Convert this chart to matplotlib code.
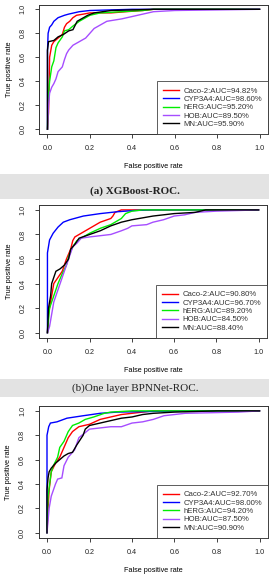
import matplotlib
matplotlib.use("Agg")
import matplotlib.pyplot as plt
from matplotlib.patches import Rectangle

plt.rcParams['font.family'] = ['Liberation Sans', 'DejaVu Sans']

# ---------------- data ----------------
series_names = ["Caco-2", "CYP3A4", "hERG", "HOB", "MN"]
colors = ["#ff0000", "#0000ff", "#00ee00", "#a64dff", "#000000"]

# Panel (a) XGBoost
a_auc = ["94.82%", "98.60%", "95.20%", "89.50%", "95.90%"]
a_caco_fpr = [0, 0.005, 0.008, 0.01, 0.02, 0.03, 0.05, 0.07, 0.08, 0.09, 0.105, 0.12, 0.137, 0.17, 0.2, 0.3, 0.37, 0.45, 0.5, 1.0]
a_caco_tpr = [0, 0.14, 0.4, 0.6, 0.7, 0.73, 0.76, 0.79, 0.85, 0.88, 0.9, 0.93, 0.95, 0.96, 0.97, 0.97, 0.98, 0.99, 1.0, 1.0]
a_cyp_fpr = [0, 0, 0.003, 0.01, 0.02, 0.03, 0.05, 0.08, 0.1, 0.15, 0.2, 0.3, 0.4, 1.0]
a_cyp_tpr = [0, 0.65, 0.8, 0.85, 0.87, 0.9, 0.93, 0.95, 0.96, 0.98, 0.99, 0.995, 1.0, 1.0]
a_herg_fpr = [0, 0.003, 0.01, 0.02, 0.03, 0.04, 0.05, 0.07, 0.08, 0.1, 0.12, 0.15, 0.2, 0.25, 0.35, 0.45, 0.5, 1.0]
a_herg_tpr = [0, 0.25, 0.4, 0.52, 0.57, 0.68, 0.72, 0.77, 0.82, 0.83, 0.86, 0.9, 0.95, 0.97, 0.98, 0.99, 1.0, 1.0]
a_hob_fpr = [0, 0.005, 0.01, 0.02, 0.03, 0.04, 0.05, 0.07, 0.08, 0.09, 0.1, 0.12, 0.15, 0.18, 0.2, 0.22, 0.25, 0.28, 0.35, 0.4, 0.45, 0.5, 0.6, 0.8, 1.0]
a_hob_tpr = [0, 0.2, 0.3, 0.35, 0.38, 0.42, 0.48, 0.52, 0.58, 0.63, 0.66, 0.7, 0.73, 0.76, 0.8, 0.84, 0.87, 0.9, 0.92, 0.94, 0.96, 0.98, 0.99, 0.995, 1.0]
a_mn_fpr = [0, 0, 0.005, 0.03, 0.05, 0.075, 0.1, 0.12, 0.14, 0.16, 0.19, 0.22, 0.3, 0.5, 1.0]
a_mn_tpr = [0, 0.66, 0.73, 0.74, 0.77, 0.79, 0.82, 0.83, 0.9, 0.92, 0.95, 0.97, 0.99, 1.0, 1.0]

# Panel (b) One layer BPNNet
b_auc = ["90.80%", "96.70%", "89.20%", "84.50%", "88.40%"]
b_caco_fpr = [0, 0.005, 0.02, 0.03, 0.05, 0.07, 0.09, 0.11, 0.12, 0.13, 0.15, 0.18, 0.2, 0.22, 0.25, 0.3, 0.31, 0.32, 0.35, 1.0]
b_caco_tpr = [0, 0.15, 0.3, 0.4, 0.45, 0.5, 0.6, 0.68, 0.75, 0.78, 0.8, 0.83, 0.85, 0.87, 0.9, 0.93, 0.95, 0.98, 1.0, 1.0]
b_cyp_fpr = [0, 0, 0.01, 0.027, 0.05, 0.075, 0.106, 0.17, 0.25, 0.33, 0.41, 0.5, 1.0]
b_cyp_tpr = [0, 0.65, 0.755, 0.81, 0.86, 0.9, 0.92, 0.95, 0.97, 0.985, 0.995, 1.0, 1.0]
b_herg_fpr = [0, 0.01, 0.03, 0.05, 0.07, 0.09, 0.1, 0.12, 0.14, 0.17, 0.2, 0.25, 0.3, 0.35, 0.37, 0.4, 0.45, 1.0]
b_herg_tpr = [0, 0.2, 0.3, 0.4, 0.48, 0.55, 0.62, 0.7, 0.75, 0.78, 0.81, 0.85, 0.88, 0.93, 0.97, 0.99, 1.0, 1.0]
b_hob_fpr = [0, 0.01, 0.02, 0.03, 0.05, 0.07, 0.08, 0.1, 0.12, 0.14, 0.16, 0.2, 0.25, 0.3, 0.35, 0.38, 0.4, 0.47, 0.5, 0.55, 0.6, 0.65, 0.7, 0.8, 1.0]
b_hob_tpr = [0, 0.05, 0.15, 0.25, 0.35, 0.45, 0.5, 0.6, 0.7, 0.73, 0.77, 0.78, 0.79, 0.8, 0.83, 0.85, 0.87, 0.88, 0.9, 0.92, 0.95, 0.96, 0.98, 0.99, 1.0]
b_mn_fpr = [0, 0.005, 0.015, 0.02, 0.03, 0.04, 0.06, 0.08, 0.1, 0.11, 0.13, 0.15, 0.2, 0.25, 0.3, 0.35, 0.4, 0.5, 0.6, 0.7, 0.75, 1.0]
b_mn_tpr = [0, 0.2, 0.3, 0.4, 0.45, 0.5, 0.52, 0.55, 0.6, 0.68, 0.72, 0.77, 0.8, 0.83, 0.87, 0.9, 0.92, 0.95, 0.97, 0.98, 1.0, 1.0]

# Panel (c)
c_auc = ["92.70%", "98.00%", "94.20%", "87.50%", "90.90%"]
c_caco_fpr = [0, 0.005, 0.01, 0.02, 0.04, 0.06, 0.08, 0.1, 0.12, 0.15, 0.2, 0.25, 0.3, 0.35, 0.45, 0.5, 1.0]
c_caco_tpr = [0, 0.2, 0.35, 0.5, 0.57, 0.62, 0.7, 0.78, 0.83, 0.87, 0.89, 0.93, 0.95, 0.97, 0.99, 1.0, 1.0]
c_cyp_fpr = [0, 0, 0.008, 0.016, 0.047, 0.094, 0.17, 0.25, 0.33, 0.5, 0.64, 1.0]
c_cyp_tpr = [0, 0.8, 0.87, 0.9, 0.91, 0.94, 0.96, 0.98, 0.99, 0.995, 1.0, 1.0]
c_herg_fpr = [0, 0.005, 0.02, 0.03, 0.05, 0.06, 0.08, 0.1, 0.12, 0.15, 0.18, 0.22, 0.27, 0.3, 0.4, 1.0]
c_herg_tpr = [0, 0.3, 0.5, 0.55, 0.62, 0.7, 0.75, 0.83, 0.88, 0.9, 0.93, 0.95, 0.98, 0.99, 1.0, 1.0]
c_hob_fpr = [0, 0.005, 0.01, 0.02, 0.04, 0.05, 0.07, 0.08, 0.1, 0.13, 0.15, 0.2, 0.25, 0.3, 0.35, 0.4, 0.45, 0.5, 0.55, 0.6, 0.65, 0.9, 1.0]
c_hob_tpr = [0, 0.1, 0.2, 0.3, 0.4, 0.44, 0.45, 0.55, 0.62, 0.68, 0.78, 0.85, 0.86, 0.87, 0.87, 0.9, 0.91, 0.93, 0.96, 0.97, 0.98, 0.99, 1.0]
c_mn_fpr = [0, 0, 0.005, 0.01, 0.02, 0.04, 0.06, 0.08, 0.1, 0.12, 0.14, 0.17, 0.18, 0.2, 0.25, 0.3, 0.35, 0.4, 0.45, 0.5, 0.6, 0.8, 1.0]
c_mn_tpr = [0, 0.35, 0.45, 0.5, 0.53, 0.57, 0.6, 0.63, 0.65, 0.66, 0.72, 0.8, 0.85, 0.88, 0.9, 0.92, 0.94, 0.95, 0.97, 0.98, 0.99, 1.0, 1.0]

captions = ["(a) XGBoost-ROC.", "(b)One layer BPNNet-ROC."]
ticks = [0.0, 0.2, 0.4, 0.6, 0.8, 1.0]
tick_labels = ["0.0", "0.2", "0.4", "0.6", "0.8", "1.0"]

panels = [
    (a_auc, [(a_caco_fpr, a_caco_tpr), (a_cyp_fpr, a_cyp_tpr), (a_herg_fpr, a_herg_tpr), (a_hob_fpr, a_hob_tpr), (a_mn_fpr, a_mn_tpr)]),
    (b_auc, [(b_caco_fpr, b_caco_tpr), (b_cyp_fpr, b_cyp_tpr), (b_herg_fpr, b_herg_tpr), (b_hob_fpr, b_hob_tpr), (b_mn_fpr, b_mn_tpr)]),
    (c_auc, [(c_caco_fpr, c_caco_tpr), (c_cyp_fpr, c_cyp_tpr), (c_herg_fpr, c_herg_tpr), (c_hob_fpr, c_hob_tpr), (c_mn_fpr, c_mn_tpr)]),
]

# ---------------- layout ----------------
W, H = 269, 575
fig = plt.figure(figsize=(W / 100, H / 100), dpi=100)
fig.patch.set_facecolor("white")

def fr(px_left, px_top, px_right, px_bottom):
    return [px_left / W, 1 - px_bottom / H, (px_right - px_left) / W, (px_bottom - px_top) / H]

axes_boxes = [(39, 4.5, 268, 134), (39, 205, 267, 337.6), (38.5, 406, 268, 537.6)]
bands = [(174.3, 199, 191), (379, 397, 388)]

for i, ((auc, curves), box) in enumerate(zip(panels, axes_boxes)):
    ax = fig.add_axes(fr(*box))
    for name, col, a, (fx, ty) in zip(series_names, colors, auc, curves):
        ax.plot(fx, ty, color=col, lw=1.0, label=f"{name}:AUC={a}", solid_joinstyle="miter")
    ax.set_xlim(-0.04, 1.04)
    ax.set_ylim(-0.04, 1.04)
    ax.set_xticks(ticks)
    ax.set_xticklabels(tick_labels, fontsize=5.2)
    ax.set_yticks(ticks)
    ax.set_yticklabels(tick_labels, fontsize=5.2, rotation=90, va="center")
    ax.tick_params(axis="x", length=3, width=0.6, pad=5, colors="#222222")
    ax.tick_params(axis="y", length=3, width=0.6, pad=6, colors="#222222")
    for s in ax.spines.values():
        s.set_linewidth(0.7)
        s.set_color("#333333")
    ax.set_xlabel("False positive rate", fontsize=5.2, labelpad=8)
    ax.set_ylabel("True positive rate", fontsize=5.2, labelpad=5)
    leg = ax.legend(loc="lower right", bbox_to_anchor=(1.0, 0.0),
                    fontsize=5.6, frameon=True, fancybox=False, borderaxespad=0,
                    handlelength=2.0, handletextpad=0.6, labelspacing=0.12,
                    borderpad=0.75, edgecolor="#333333")
    leg.get_frame().set_linewidth(0.7)
    for t in leg.get_texts():
        t.set_color("#333333")

for (top, bot, cy), cap, bold in zip(bands, captions, ["bold", "normal"]):
    fig.patches.append(Rectangle((0, 1 - bot / H), 1, (bot - top) / H, transform=fig.transFigure,
                                 facecolor="#e3e3e3", edgecolor="none", zorder=0))
    fig.text(135 / W, 1 - cy / H, cap, ha="center", va="center", fontsize=8,
             family=["Liberation Serif", "DejaVu Serif"], weight=bold, color="#222222")

fig.savefig("out.png", dpi=100)
